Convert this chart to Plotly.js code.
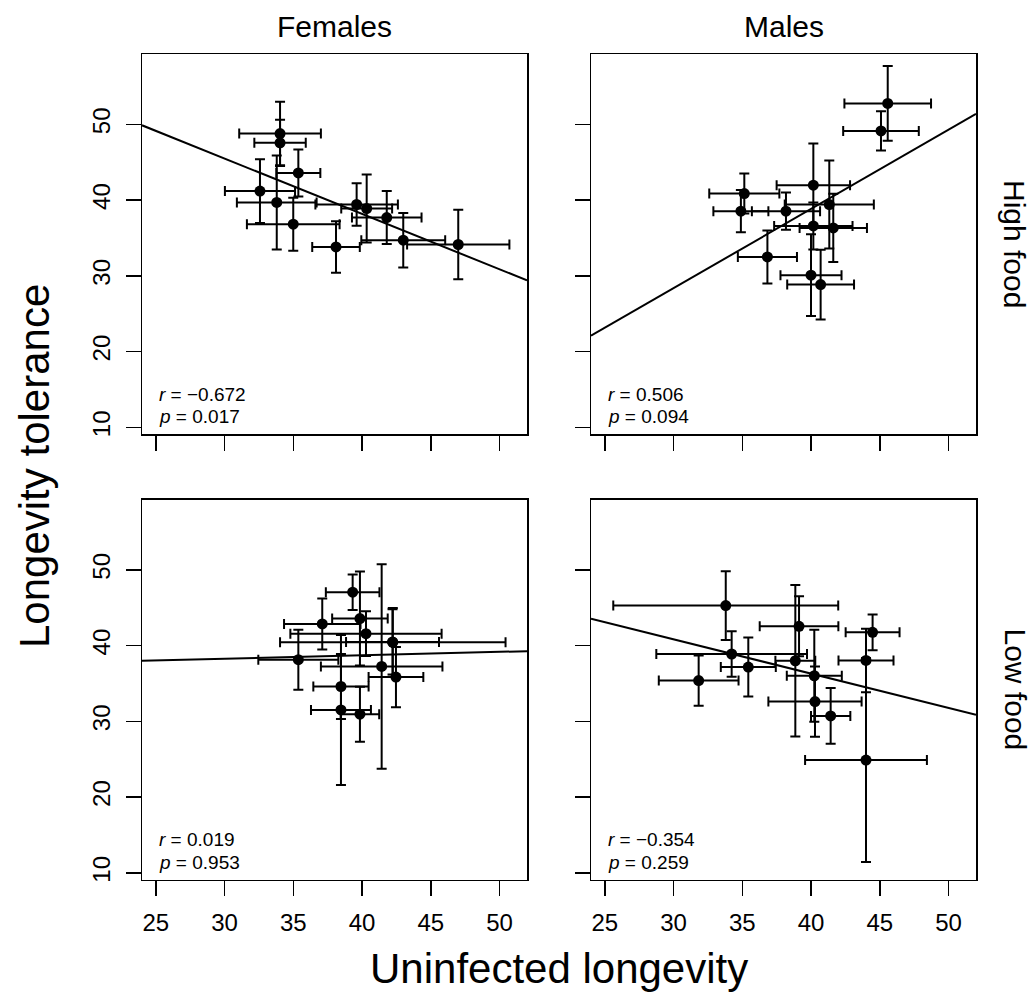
<!DOCTYPE html>
<html><head><meta charset="utf-8">
<script src="https://cdn.plot.ly/plotly-3.0.1.min.js"></script>
<style>html,body{margin:0;padding:0;background:#fff}#chart{width:1036px;height:999px}</style>
</head><body><div id="chart"></div>
<script>
// Panel order: High food Females, High food Males, Low food Females, Low food Males
const colLabels = ["Females", "Males"];
const rowLabels = ["High food", "Low food"];
const xTicks = [25, 30, 35, 40, 45, 50];
const yTicks = [10, 20, 30, 40, 50];

const hfX  = [34.04, 34.04, 35.37, 32.58, 33.80, 35.00, 38.11, 39.61, 40.34, 41.80, 43.00, 47.00];
const hfY  = [48.80, 47.57, 43.60, 41.20, 39.70, 36.83, 33.83, 39.43, 38.90, 37.70, 34.72, 34.15];
const hfXe = [2.97, 1.87, 1.60, 2.55, 2.90, 3.37, 1.73, 3.00, 1.85, 2.53, 3.05, 3.72];
const hfYe = [4.20, 3.05, 3.10, 4.20, 6.20, 3.50, 3.40, 2.80, 4.50, 3.50, 3.60, 4.60];

const hmX  = [45.58, 45.09, 40.17, 35.15, 34.90, 38.18, 41.33, 40.17, 41.62, 36.83, 40.00, 40.70];
const hmY  = [52.77, 49.15, 41.98, 40.88, 38.55, 38.55, 39.43, 36.60, 36.34, 32.51, 30.10, 28.86];
const hmXe = [3.15, 2.75, 2.67, 2.55, 2.00, 2.48, 3.24, 2.85, 2.45, 2.15, 2.22, 2.43];
const hmYe = [4.93, 2.60, 5.50, 2.65, 2.80, 2.45, 5.80, 3.10, 4.50, 3.50, 5.40, 4.60];

const lfX  = [39.32, 39.85, 37.11, 40.29, 42.24, 42.22, 35.37, 41.43, 42.47, 38.47, 38.47, 39.85];
const lfY  = [47.06, 43.58, 42.87, 41.59, 40.44, 40.50, 38.15, 37.26, 35.85, 34.61, 31.52, 30.95];
const lfXe = [1.95, 2.02, 2.78, 5.50, 8.20, 3.38, 2.91, 4.42, 1.99, 2.01, 2.18, 1.40];
const lfYe = [2.34, 6.20, 3.36, 2.95, 4.55, 4.30, 3.97, 13.50, 3.97, 4.30, 9.90, 3.62];

const lmX  = [33.80, 39.13, 44.48, 38.86, 34.23, 35.44, 44.00, 40.24, 40.29, 41.43, 44.00, 31.83];
const lmY  = [45.30, 42.56, 41.76, 38.01, 38.90, 37.18, 38.05, 36.03, 32.62, 30.73, 24.90, 35.40];
const lmXe = [8.18, 2.86, 1.96, 1.45, 5.48, 2.00, 2.00, 2.00, 3.39, 1.43, 4.43, 2.90];
const lmYe = [4.54, 3.97, 2.35, 10.00, 3.00, 3.90, 4.20, 6.07, 4.63, 3.67, 13.47, 3.32];

const lineIntercept = [67.43, -3.00, 36.94, 54.43];
const lineSlope     = [-0.731, 1.046, 0.0449, -0.453];
const rValues = ["\u22120.672", "0.506", "0.019", "\u22120.354"];
const pValues = ["0.017", "0.094", "0.953", "0.259"];

const panels = [
  {x: hfX, y: hfY, xe: hfXe, ye: hfYe},
  {x: hmX, y: hmY, xe: hmXe, ye: hmYe},
  {x: lfX, y: lfY, xe: lfXe, ye: lfYe},
  {x: lmX, y: lmY, xe: lmXe, ye: lmYe}
];

const FONT = "Liberation Sans, Arial, Helvetica, sans-serif";
const W = 1036, H = 999;
const xRange = [24, 52];
const yRange = [9.13, 59.3];
const xDom = [[142 / W, 527 / W], [591 / W, 976 / W]];
const yDom = [[1 - 434 / H, 1 - 54 / H], [1 - 879.5 / H, 1 - 499.5 / H]];

const traces = [];
const layout = {
  width: W, height: H,
  margin: {l: 0, r: 0, t: 0, b: 0},
  paper_bgcolor: "#fff", plot_bgcolor: "#fff",
  showlegend: false,
  font: {family: FONT, color: "#000"},
  annotations: []
};

panels.forEach((p, i) => {
  const n = i + 1;
  const suf = n === 1 ? "" : String(n);
  const xa = "x" + suf, ya = "y" + suf;
  const col = i % 2, row = Math.floor(i / 2);
  traces.push({
    type: "scatter", mode: "lines", xaxis: xa, yaxis: ya,
    x: xRange.slice(),
    y: xRange.map(v => lineIntercept[i] + lineSlope[i] * v),
    line: {color: "#000", width: 2}, hoverinfo: "skip"
  });
  traces.push({
    type: "scatter", mode: "markers", xaxis: xa, yaxis: ya,
    x: p.x, y: p.y,
    marker: {color: "#000", size: 11},
    error_x: {type: "data", array: p.xe, symmetric: true, color: "#000", thickness: 2, width: 5},
    error_y: {type: "data", array: p.ye, symmetric: true, color: "#000", thickness: 2, width: 5}
  });
  layout["xaxis" + suf] = {
    domain: xDom[col], range: xRange, anchor: ya,
    tickvals: xTicks, ticktext: xTicks.map(String),
    showticklabels: row === 1,
    ticks: "outside", ticklen: 15, tickwidth: 1.5, tickcolor: "#000",
    showline: true, linecolor: "#000", linewidth: 1.5, mirror: true,
    showgrid: false, zeroline: false,
    tickfont: {family: FONT, size: 24, color: "#000"},
    ticklabelstandoff: 6
  };
  layout["yaxis" + suf] = {
    domain: yDom[row], range: yRange, anchor: xa,
    tickvals: yTicks, ticktext: yTicks.map(String),
    showticklabels: col === 0, tickangle: -90,
    ticks: "outside", ticklen: 15, tickwidth: 1.5, tickcolor: "#000",
    showline: true, linecolor: "#000", linewidth: 1.5, mirror: true,
    showgrid: false, zeroline: false,
    tickfont: {family: FONT, size: 24, color: "#000"},
    ticklabelstandoff: 6
  };
  layout.annotations.push({
    xref: xa + " domain", yref: ya + " domain", x: 0.042, y: 0.104,
    xanchor: "left", yanchor: "middle", showarrow: false, borderpad: 0,
    text: "<i>r</i> = " + rValues[i], font: {family: FONT, size: 19, color: "#000"}
  });
  layout.annotations.push({
    xref: xa + " domain", yref: ya + " domain", x: 0.042, y: 0.046,
    xanchor: "left", yanchor: "middle", showarrow: false, borderpad: 0,
    text: "<i>p</i> = " + pValues[i], font: {family: FONT, size: 19, color: "#000"}
  });
});

colLabels.forEach((t, c) => {
  layout.annotations.push({
    xref: "paper", yref: "paper", x: (xDom[c][0] + xDom[c][1]) / 2, y: 1 - 27 / H,
    xanchor: "center", yanchor: "middle", showarrow: false,
    text: t, font: {family: FONT, size: 30, color: "#000"}
  });
});
rowLabels.forEach((t, r) => {
  layout.annotations.push({
    xref: "paper", yref: "paper", x: 1015 / W, y: (yDom[r][0] + yDom[r][1]) / 2,
    xanchor: "center", yanchor: "middle", showarrow: false, textangle: 90,
    text: t, font: {family: FONT, size: 30, color: "#000"}
  });
});
layout.annotations.push({
  xref: "paper", yref: "paper", x: 559 / W, y: 1 - 968 / H,
  xanchor: "center", yanchor: "middle", showarrow: false,
  text: "Uninfected longevity", font: {family: FONT, size: 42, color: "#000"}
});
layout.annotations.push({
  xref: "paper", yref: "paper", x: 35 / W, y: 1 - 466 / H,
  xanchor: "center", yanchor: "middle", showarrow: false, textangle: -90,
  text: "Longevity tolerance", font: {family: FONT, size: 42, color: "#000"}
});

Plotly.newPlot("chart", traces, layout, {staticPlot: true, displayModeBar: false});
</script>
</body></html>
